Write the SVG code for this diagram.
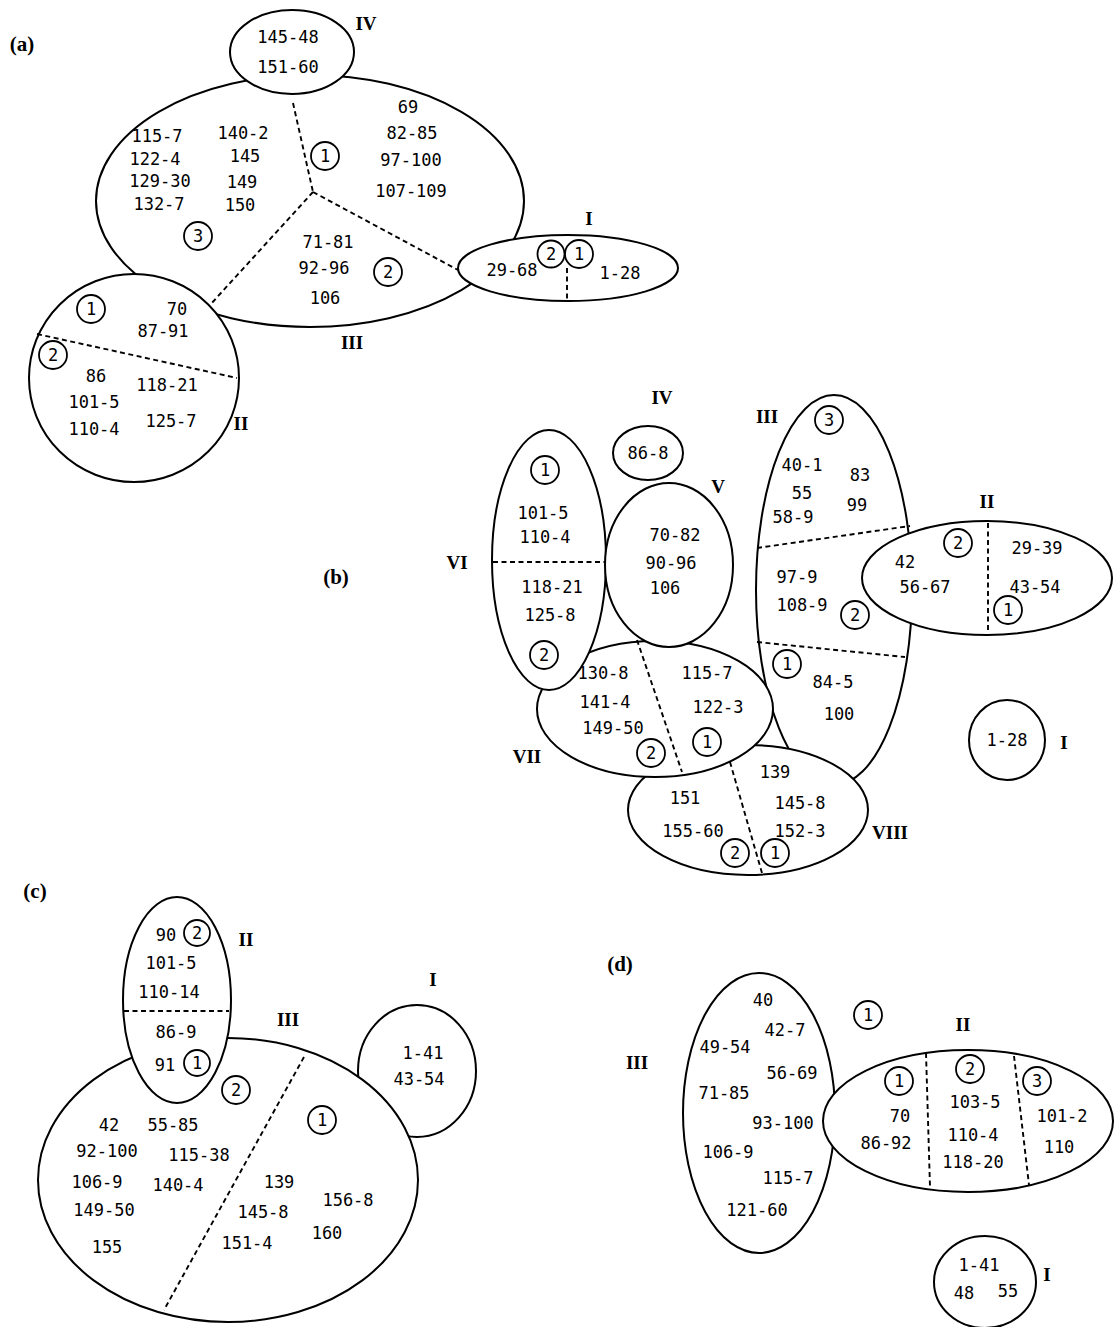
<svg xmlns="http://www.w3.org/2000/svg" width="1114" height="1327" viewBox="0 0 1114 1327">
<style>
.o{fill:#fff;stroke:#000;stroke-width:2}
.c{fill:#fff;stroke:#000;stroke-width:1.8}
.d{fill:none;stroke:#000;stroke-width:1.9;stroke-dasharray:5 3.5}
.n{font-family:"DejaVu Sans Mono",monospace;font-size:17px;text-anchor:middle;fill:#000}
.r{font-family:"Liberation Serif",serif;font-weight:bold;font-size:19px;text-anchor:middle;fill:#000}
.p{font-family:"Liberation Serif",serif;font-weight:bold;font-size:21px;text-anchor:middle;fill:#000}
</style>
<rect width="1114" height="1327" fill="#fff"/>

<!-- Panel (a) -->
<g id="panel-a">
<text class="p" x="22" y="51">(a)</text>
<g id="a-III">
<ellipse class="o" cx="310" cy="201" rx="214" ry="126"/>
<text class="n" x="157" y="142">115-7</text>
<text class="n" x="155" y="165">122-4</text>
<text class="n" x="160" y="187">129-30</text>
<text class="n" x="159" y="210">132-7</text>
<text class="n" x="243" y="139">140-2</text>
<text class="n" x="245" y="162">145</text>
<text class="n" x="242" y="188">149</text>
<text class="n" x="240" y="211">150</text>
<circle class="c" cx="198" cy="236" r="14"/><text class="n" x="198" y="242">3</text>
<circle class="c" cx="325" cy="156" r="14"/><text class="n" x="325" y="162">1</text>
<text class="n" x="408" y="113">69</text>
<text class="n" x="412" y="139">82-85</text>
<text class="n" x="411" y="166">97-100</text>
<text class="n" x="411" y="197">107-109</text>
<text class="n" x="328" y="248">71-81</text>
<text class="n" x="324" y="274">92-96</text>
<text class="n" x="325" y="304">106</text>
<circle class="c" cx="388" cy="272" r="14"/><text class="n" x="388" y="278">2</text>
<text class="r" x="352" y="349">III</text>
</g>
<g id="a-IV">
<ellipse class="o" cx="292" cy="52" rx="62" ry="42"/>
<text class="n" x="288" y="43">145-48</text>
<text class="n" x="288" y="73">151-60</text>
<text class="r" x="366" y="30">IV</text>
</g>
<g id="a-II">
<ellipse class="o" cx="134" cy="378" rx="105" ry="104"/>
<circle class="c" cx="91" cy="309" r="14"/><text class="n" x="91" y="315">1</text>
<text class="n" x="177" y="315">70</text>
<text class="n" x="163" y="337">87-91</text>
<circle class="c" cx="53" cy="355" r="14"/><text class="n" x="53" y="361">2</text>
<text class="n" x="96" y="382">86</text>
<text class="n" x="94" y="408">101-5</text>
<text class="n" x="94" y="435">110-4</text>
<text class="n" x="167" y="391">118-21</text>
<text class="n" x="171" y="427">125-7</text>
<text class="r" x="241" y="430">II</text>
</g>
<g id="a-I">
<ellipse class="o" cx="568" cy="268" rx="110" ry="33"/>
<circle class="c" cx="551" cy="254" r="13.5"/><text class="n" x="551" y="260">2</text>
<circle class="c" cx="579" cy="254" r="14"/><text class="n" x="579" y="260">1</text>
<text class="n" x="512" y="276">29-68</text>
<text class="n" x="620" y="279">1-28</text>
<text class="r" x="589" y="225">I</text>
</g>
</g>

<!-- Panel (b) -->
<g id="panel-b">
<text class="p" x="336" y="584">(b)</text>
<g id="b-III">
<ellipse class="o" cx="834" cy="590" rx="78" ry="195"/>
<circle class="c" cx="829" cy="420" r="14"/><text class="n" x="829" y="426">3</text>
<text class="n" x="802" y="471">40-1</text>
<text class="n" x="860" y="481">83</text>
<text class="n" x="802" y="499">55</text>
<text class="n" x="857" y="511">99</text>
<text class="n" x="793" y="523">58-9</text>
<text class="n" x="797" y="583">97-9</text>
<text class="n" x="802" y="611">108-9</text>
<circle class="c" cx="855" cy="615" r="14"/><text class="n" x="855" y="621">2</text>
<circle class="c" cx="787" cy="664" r="14"/><text class="n" x="787" y="670">1</text>
<text class="n" x="833" y="688">84-5</text>
<text class="n" x="839" y="720">100</text>
<text class="r" x="767" y="423">III</text>
</g>
<g id="b-VIII">
<ellipse class="o" cx="748" cy="810" rx="120" ry="65"/>
<text class="n" x="775" y="778">139</text>
<text class="n" x="685" y="804">151</text>
<text class="n" x="800" y="809">145-8</text>
<text class="n" x="693" y="837">155-60</text>
<text class="n" x="800" y="837">152-3</text>
<circle class="c" cx="735" cy="853" r="14"/><text class="n" x="735" y="859">2</text>
<circle class="c" cx="775" cy="853" r="14"/><text class="n" x="775" y="859">1</text>
<text class="r" x="890" y="839">VIII</text>
</g>
<g id="b-VII">
<ellipse class="o" cx="655" cy="709" rx="118" ry="68"/>
<text class="n" x="603" y="679">130-8</text>
<text class="n" x="605" y="708">141-4</text>
<text class="n" x="613" y="734">149-50</text>
<circle class="c" cx="651" cy="753" r="14"/><text class="n" x="651" y="759">2</text>
<text class="n" x="707" y="679">115-7</text>
<text class="n" x="718" y="713">122-3</text>
<circle class="c" cx="707" cy="742" r="14"/><text class="n" x="707" y="748">1</text>
<text class="r" x="527" y="763">VII</text>
</g>
<g id="b-VI">
<ellipse class="o" cx="549" cy="560" rx="57" ry="130"/>
<circle class="c" cx="545" cy="470" r="14"/><text class="n" x="545" y="476">1</text>
<text class="n" x="543" y="519">101-5</text>
<text class="n" x="545" y="543">110-4</text>
<text class="n" x="552" y="593">118-21</text>
<text class="n" x="550" y="621">125-8</text>
<circle class="c" cx="544" cy="655" r="14"/><text class="n" x="544" y="661">2</text>
<text class="r" x="457" y="569">VI</text>
</g>
<g id="b-V">
<ellipse class="o" cx="669" cy="565" rx="64" ry="82"/>
<text class="n" x="675" y="541">70-82</text>
<text class="n" x="671" y="569">90-96</text>
<text class="n" x="665" y="594">106</text>
<text class="r" x="718" y="493">V</text>
</g>
<g id="b-II">
<ellipse class="o" cx="987" cy="578" rx="125" ry="57"/>
<text class="n" x="905" y="568">42</text>
<text class="n" x="925" y="593">56-67</text>
<circle class="c" cx="958" cy="543" r="14"/><text class="n" x="958" y="549">2</text>
<text class="n" x="1037" y="554">29-39</text>
<text class="n" x="1035" y="593">43-54</text>
<circle class="c" cx="1008" cy="610" r="14"/><text class="n" x="1008" y="616">1</text>
<text class="r" x="987" y="508">II</text>
</g>
<g id="b-IV">
<ellipse class="o" cx="648" cy="453" rx="35" ry="27"/>
<text class="n" x="648" y="459">86-8</text>
<text class="r" x="662" y="404">IV</text>
</g>
<g id="b-I">
<ellipse class="o" cx="1007" cy="740" rx="38" ry="40"/>
<text class="n" x="1007" y="746">1-28</text>
<text class="r" x="1064" y="749">I</text>
</g>
</g>

<!-- Panel (c) -->
<g id="panel-c">
<text class="p" x="35" y="898">(c)</text>
<g id="c-I">
<ellipse class="o" cx="417" cy="1071" rx="59" ry="66"/>
<text class="n" x="423" y="1059">1-41</text>
<text class="n" x="419" y="1085">43-54</text>
<text class="r" x="433" y="986">I</text>
</g>
<g id="c-III">
<ellipse class="o" cx="228" cy="1180" rx="190" ry="142"/>
<text class="n" x="109" y="1131">42</text>
<text class="n" x="173" y="1131">55-85</text>
<text class="n" x="107" y="1157">92-100</text>
<text class="n" x="199" y="1161">115-38</text>
<text class="n" x="97" y="1188">106-9</text>
<text class="n" x="178" y="1191">140-4</text>
<text class="n" x="104" y="1216">149-50</text>
<text class="n" x="107" y="1253">155</text>
<text class="n" x="279" y="1188">139</text>
<text class="n" x="263" y="1218">145-8</text>
<text class="n" x="247" y="1249">151-4</text>
<text class="n" x="348" y="1206">156-8</text>
<text class="n" x="327" y="1239">160</text>
<circle class="c" cx="236" cy="1090" r="14"/><text class="n" x="236" y="1096">2</text>
<circle class="c" cx="322" cy="1120" r="14"/><text class="n" x="322" y="1126">1</text>
<text class="r" x="288" y="1026">III</text>
</g>
<g id="c-II">
<ellipse class="o" cx="177" cy="1000" rx="54" ry="103"/>
<text class="n" x="166" y="941">90</text>
<circle class="c" cx="197" cy="933" r="13"/><text class="n" x="197" y="939">2</text>
<text class="n" x="171" y="969">101-5</text>
<text class="n" x="169" y="998">110-14</text>
<text class="n" x="176" y="1038">86-9</text>
<text class="n" x="165" y="1071">91</text>
<circle class="c" cx="197" cy="1063" r="13"/><text class="n" x="197" y="1069">1</text>
<text class="r" x="246" y="946">II</text>
</g>
</g>

<!-- Panel (d) -->
<g id="panel-d">
<text class="p" x="620" y="971">(d)</text>
<g id="d-III">
<ellipse class="o" cx="759" cy="1113" rx="76" ry="140"/>
<text class="n" x="763" y="1006">40</text>
<text class="n" x="785" y="1036">42-7</text>
<text class="n" x="725" y="1053">49-54</text>
<text class="n" x="792" y="1079">56-69</text>
<text class="n" x="724" y="1099">71-85</text>
<text class="n" x="783" y="1129">93-100</text>
<text class="n" x="728" y="1158">106-9</text>
<text class="n" x="788" y="1184">115-7</text>
<text class="n" x="757" y="1216">121-60</text>
<text class="r" x="637" y="1069">III</text>
</g>
<g id="d-mark1">
<circle class="c" cx="868" cy="1015" r="14"/><text class="n" x="868" y="1021">1</text>
</g>
<g id="d-II">
<ellipse class="o" cx="968" cy="1121" rx="145" ry="71"/>
<circle class="c" cx="899" cy="1081" r="14"/><text class="n" x="899" y="1087">1</text>
<text class="n" x="900" y="1122">70</text>
<text class="n" x="886" y="1149">86-92</text>
<circle class="c" cx="970" cy="1069" r="14"/><text class="n" x="970" y="1075">2</text>
<text class="n" x="975" y="1108">103-5</text>
<text class="n" x="973" y="1141">110-4</text>
<text class="n" x="973" y="1168">118-20</text>
<circle class="c" cx="1037" cy="1081" r="14"/><text class="n" x="1037" y="1087">3</text>
<text class="n" x="1062" y="1122">101-2</text>
<text class="n" x="1059" y="1153">110</text>
<text class="r" x="963" y="1031">II</text>
</g>
<g id="d-I">
<ellipse class="o" cx="985" cy="1282" rx="51" ry="46"/>
<text class="n" x="979" y="1271">1-41</text>
<text class="n" x="964" y="1299">48</text>
<text class="n" x="1008" y="1297">55</text>
<text class="r" x="1047" y="1281">I</text>
</g>
</g>

<!-- Dashed partition lines -->
<g id="connectors">
<line class="d" x1="293" y1="103" x2="313" y2="192"/>
<line class="d" x1="313" y1="192" x2="210" y2="305"/>
<line class="d" x1="313" y1="192" x2="458" y2="270"/>
<line class="d" x1="37" y1="334" x2="237" y2="378"/>
<line class="d" x1="567" y1="268" x2="567" y2="301"/>
<line class="d" x1="757" y1="548" x2="910" y2="526"/>
<line class="d" x1="757" y1="642" x2="905" y2="657"/>
<line class="d" x1="988" y1="523" x2="988" y2="632"/>
<line class="d" x1="493" y1="562" x2="605" y2="562"/>
<line class="d" x1="637" y1="640" x2="682" y2="772"/>
<line class="d" x1="730" y1="762" x2="762" y2="873"/>
<line class="d" x1="124" y1="1011" x2="229" y2="1011"/>
<line class="d" x1="304" y1="1057" x2="164" y2="1310"/>
<line class="d" x1="926" y1="1053" x2="930" y2="1187"/>
<line class="d" x1="1014" y1="1056" x2="1029" y2="1185"/>
</g>
</svg>
